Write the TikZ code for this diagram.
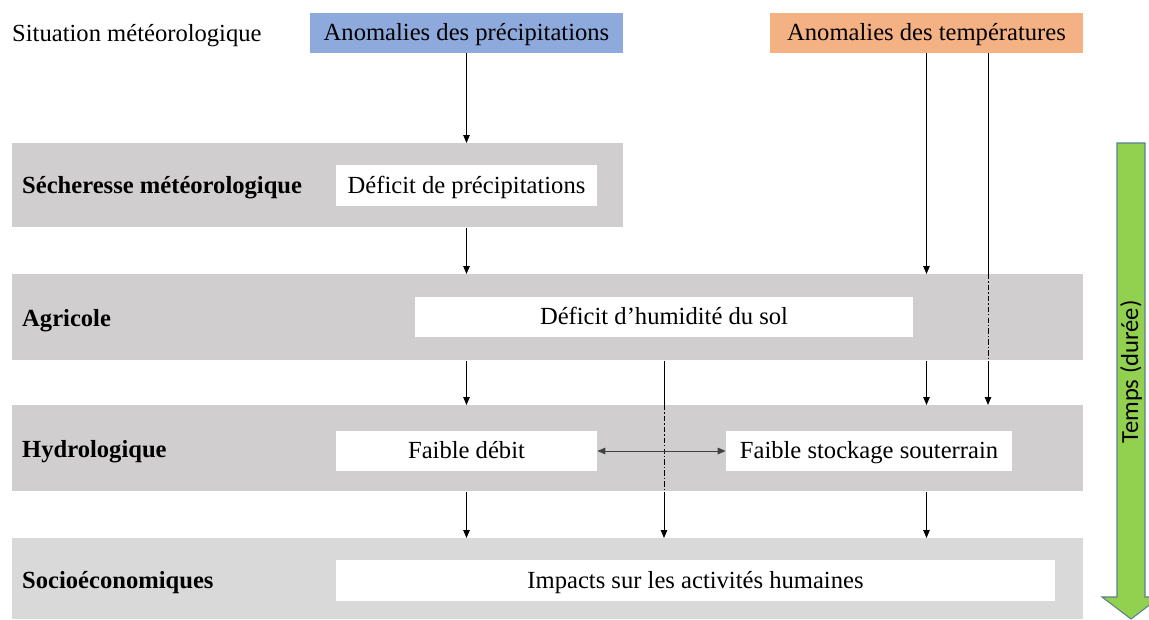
\documentclass[tikz,border=0pt]{standalone}
\usepackage{fontspec}
\setmainfont{Liberation Serif}
\newfontfamily\calibrifont{Carlito}
\usetikzlibrary{arrows.meta}
\definecolor{precipblue}{HTML}{8EA9DB}
\definecolor{temporange}{HTML}{F4B183}
\definecolor{bandgray}{HTML}{D0CECE}
\definecolor{socgray}{HTML}{D9D9D9}
\definecolor{timegreen}{HTML}{92D050}
\definecolor{timeedge}{HTML}{5B7F8F}
\begin{document}
\begin{tikzpicture}[x=0.02cm, y=-0.02cm, font=\fontsize{14}{16.8}\selectfont,
    every node/.style={text height=1.0em, text depth=0.13em},
    band/.style={rectangle, anchor=north west, fill=bandgray, inner sep=0pt, text height=, text depth=},
    bandlabel/.style={anchor=west, font=\fontsize{14}{16.8}\selectfont\bfseries},
    whitebox/.style={rectangle, fill=white, text centered, inner sep=0pt, minimum height=0.81cm},
    topbox/.style={rectangle, text centered, inner sep=0pt, minimum width=6.26cm, minimum height=0.8cm},
    arr/.style={line width=0.55pt, -{Triangle[length=1.6mm,width=1.3mm]}},
    plain/.style={line width=0.55pt},
    dashdot/.style={line width=0.55pt, dash pattern=on 3pt off 1.2pt on 0.8pt off 1.2pt}]
    \useasboundingbox (0,0) rectangle (1149,619);

    % situation meteorologique
    \node (situation) [anchor=west] at (6,34) {Situation météorologique};
    \node (precip) [topbox, fill=precipblue] at (466.5,33) {Anomalies des précipitations};
    \node (temp) [topbox, fill=temporange] at (926.5,33) {Anomalies des températures};

    % bandes
    \node (sech) [band, minimum width=12.22cm, minimum height=1.68cm] at (12,143) {};
    \node (agri) [band, minimum width=21.42cm, minimum height=1.72cm] at (12,274) {};
    \node (hydro) [band, minimum width=21.42cm, minimum height=1.72cm] at (12,405) {};
    \node (socio) [band, fill=socgray, minimum width=21.42cm, minimum height=1.62cm] at (12,538) {};

    \node (sechlabel) [bandlabel] at (16,186) {Sécheresse météorologique};
    \node (agrilabel) [bandlabel] at (16,319) {Agricole};
    \node (hydrolabel) [bandlabel] at (16,450) {Hydrologique};
    \node (sociolabel) [bandlabel] at (16,581) {Socioéconomiques};

    % boites
    \node (defprec) [whitebox, minimum width=5.22cm] at (466.5,185.5) {Déficit de précipitations};
    \node (humid) [whitebox, minimum width=9.96cm] at (664,317) {Déficit d’humidité du sol};
    \node (debit) [whitebox, minimum width=5.22cm] at (466.5,451) {Faible débit};
    \node (stock) [whitebox, minimum width=5.72cm] at (869,451) {Faible stockage souterrain};
    \node (impacts) [whitebox, minimum width=14.38cm] at (695.5,580.5) {Impacts sur les activités humaines};

    % temps
    \fill [timegreen, draw=timeedge, line width=0.6pt] (1117,143) -- (1145,143) -- (1145,597) -- (1160,597)
        -- (1131,619) -- (1102,597) -- (1117,597) -- cycle;
    \node (tempslabel) [rotate=90, text height=, text depth=, font=\fontsize{14}{16.8}\calibrifont] at (1131,372) {Temps (durée)};

    % fleches
    \coordinate (t2) at (988,53);
    \draw [arr] (precip.south) -- (precip |- sech.north);
    \draw [arr] (defprec |- sech.south) -- (defprec |- agri.north);
    \draw [arr] (temp.south) -- (temp |- agri.north);
    \draw [plain] (t2) -- (t2 |- agri.north);
    \draw [dashdot] (t2 |- agri.north) -- (t2 |- agri.south);
    \draw [arr] (t2 |- agri.south) -- (t2 |- hydro.north);
    \draw [arr] (debit |- agri.south) -- (debit |- hydro.north);
    \draw [arr] (temp |- agri.south) -- (temp |- hydro.north);
    \draw [plain] (humid |- agri.south) -- (humid |- hydro.north);
    \draw [dashdot] (humid |- hydro.north) -- (humid |- hydro.south);
    \draw [arr] (humid |- hydro.south) -- (humid |- socio.north);
    \draw [arr] (debit |- hydro.south) -- (debit |- socio.north);
    \draw [arr] (temp |- hydro.south) -- (temp |- socio.north);
    \draw [line width=0.55pt, draw=black!75, {Triangle[length=1.6mm,width=1.3mm]}-{Triangle[length=1.6mm,width=1.3mm]}] (debit.east) -- (stock.west);
\end{tikzpicture}
\end{document}
